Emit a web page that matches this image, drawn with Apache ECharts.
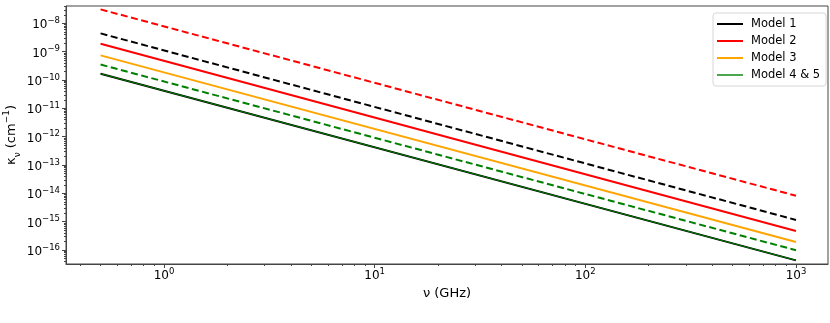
<!DOCTYPE html>
<html>
<head>
<meta charset="utf-8">
<script src="https://cdn.jsdelivr.net/npm/echarts@6/dist/echarts.min.js"></script>
<style>
  html, body { margin: 0; padding: 0; background: #fff; }
  #chart { width: 830px; height: 323px; }
</style>
</head>
<body>
<div id="chart"></div>
<script>
// frequency (GHz) at both ends of each power law
var freqGHz = [0.5, 1000];

// kappa_nu (cm^-1)
var model1 = [1.66e-10, 4.3e-17];
var model1Dashed = [4.4e-9, 1.15e-15];
var model2 = [1.9e-9, 4.7e-16];
var model2Dashed = [3.1e-8, 8.2e-15];
var model3 = [7.4e-10, 1.9e-16];
var model45 = [1.66e-10, 4.3e-17];
var model45Dashed = [3.5e-10, 9.8e-17];

// tick labels
var xTickValues = [1, 10, 100, 1000];
var yTickValues = [1e-16, 1e-15, 1e-14, 1e-13, 1e-12, 1e-11, 1e-10, 1e-9, 1e-8];

var legendNames = ['Model 1', 'Model 2', 'Model 3', 'Model 4 & 5'];

var xMin = 0.3426, xMax = 1419;
var yMin = 3.2e-17, yMax = 4.08e-8;

// minor tick positions, 2..9 in every decade
function minorTicks(lo, hi) {
    var out = [];
    for (var p = Math.floor(Math.log10(lo)); p <= Math.ceil(Math.log10(hi)); p++) {
        for (var m = 2; m <= 9; m++) {
            var v = m * Math.pow(10, p);
            if (v > lo && v < hi) out.push(v);
        }
    }
    return out;
}

function pairs(ys) {
    return freqGHz.map(function (x, i) { return [x, ys[i]]; });
}

function powLabel(value) {
    var e = Math.round(Math.log10(value));
    var s = e < 0 ? '\u2212' + (-e) : String(e);
    return '{b|10}{s|' + s + '}';
}

var labelRich = {
    b: { fontFamily: 'DejaVu Sans', fontSize: 12, color: '#000', lineHeight: 18, verticalAlign: 'middle' },
    s: { fontFamily: 'DejaVu Sans', fontSize: 8.5, color: '#000', lineHeight: 12, verticalAlign: 'top' }
};

var axisColor = '#444';
var lineIcon = 'path://M0,0h26v2h-26z';
var thinIcon = 'path://M0,0h26v1.4h-26z';

function lineSeries(name, data, color, width, dashed) {
    return {
        name: name,
        type: 'line',
        data: pairs(data),
        symbol: 'none',
        silent: true,
        animation: false,
        lineStyle: { color: color, width: width, type: dashed ? [7, 3.5] : 'solid' },
        itemStyle: { color: color }
    };
}

var chart = echarts.init(document.getElementById('chart'), null, { renderer: 'canvas' });

var option = {
    animation: false,
    backgroundColor: '#fff',
    grid: {
        left: 66, right: 2, top: 6, bottom: 59,
        show: true, borderColor: axisColor, borderWidth: 1,
        containLabel: false,
        outerBoundsMode: 'none'
    },
    legend: {
        data: [
            { name: legendNames[0], icon: lineIcon },
            { name: legendNames[1], icon: lineIcon },
            { name: legendNames[2], icon: lineIcon },
            { name: legendNames[3], icon: thinIcon }
        ],
        orient: 'vertical',
        left: 713, top: 13,
        itemWidth: 26, itemHeight: 12, itemGap: 5,
        padding: [5, 6, 5, 4],
        itemStyle: { borderWidth: 0 },
        borderColor: '#d6d6d6', borderWidth: 1, borderRadius: 3,
        backgroundColor: '#fff',
        textStyle: { fontFamily: 'DejaVu Sans', fontSize: 11.5, color: '#000', padding: [0, 0, 0, 3] }
    },
    xAxis: [{
        type: 'log', logBase: 10, min: xMin, max: xMax,
        position: 'bottom',
        name: '\u03bd (GHz)', nameLocation: 'middle', nameGap: 14,
        nameTextStyle: { fontFamily: 'DejaVu Sans', fontSize: 13, color: '#000' },
        axisLine: { show: true, lineStyle: { color: axisColor, width: 1 } },
        axisTick: { show: true, inside: false, length: 4, customValues: xTickValues, lineStyle: { color: axisColor } },
        axisLabel: { customValues: xTickValues, formatter: powLabel, rich: labelRich, margin: 3 },
        splitLine: { show: false }
    }, {
        type: 'log', logBase: 10, min: xMin, max: xMax,
        position: 'bottom',
        axisLine: { show: false },
        axisTick: { show: true, inside: false, length: 2, customValues: minorTicks(xMin, xMax), lineStyle: { color: axisColor } },
        axisLabel: { show: false },
        splitLine: { show: false }
    }],
    yAxis: [{
        type: 'log', logBase: 10, min: yMin, max: yMax,
        position: 'left',
        name: '{k|\u03ba}{sub|\u03bd} (cm{sup|\u22121})', nameLocation: 'middle', nameGap: 44, nameRotate: 90,
        nameMoveOverlap: false,
        nameTextStyle: {
            fontFamily: 'DejaVu Sans', fontSize: 13, color: '#000',
            rich: {
                k: { fontFamily: 'DejaVu Sans', fontSize: 13, lineHeight: 20, verticalAlign: 'middle' },
                sub: { fontFamily: 'DejaVu Sans', fontSize: 9, lineHeight: 20, verticalAlign: 'bottom' },
                sup: { fontFamily: 'DejaVu Sans', fontSize: 9, lineHeight: 20, verticalAlign: 'top' }
            }
        },
        axisLine: { show: true, lineStyle: { color: axisColor, width: 1 } },
        axisTick: { show: true, inside: false, length: 4, customValues: yTickValues, lineStyle: { color: axisColor } },
        axisLabel: { customValues: yTickValues, formatter: powLabel, rich: labelRich, margin: 6, padding: [4, 0, 0, 0] },
        splitLine: { show: false }
    }, {
        type: 'log', logBase: 10, min: yMin, max: yMax,
        position: 'left',
        axisLine: { show: false },
        axisTick: { show: true, inside: false, length: 2, customValues: minorTicks(yMin, yMax), lineStyle: { color: axisColor } },
        axisLabel: { show: false },
        splitLine: { show: false }
    }],
    series: [
        lineSeries('Model 1', model1, '#000000', 2, false),
        lineSeries('Model 1 (dashed)', model1Dashed, '#000000', 2, true),
        lineSeries('Model 2', model2, '#ff0000', 2, false),
        lineSeries('Model 2 (dashed)', model2Dashed, '#ff0000', 2, true),
        lineSeries('Model 3', model3, '#ffa500', 2, false),
        lineSeries('Model 4 & 5', model45, '#008000', 1, false),
        lineSeries('Model 4 & 5 (dashed)', model45Dashed, '#008000', 2, true)
    ]
};

chart.setOption(option);
</script>
</body>
</html>
